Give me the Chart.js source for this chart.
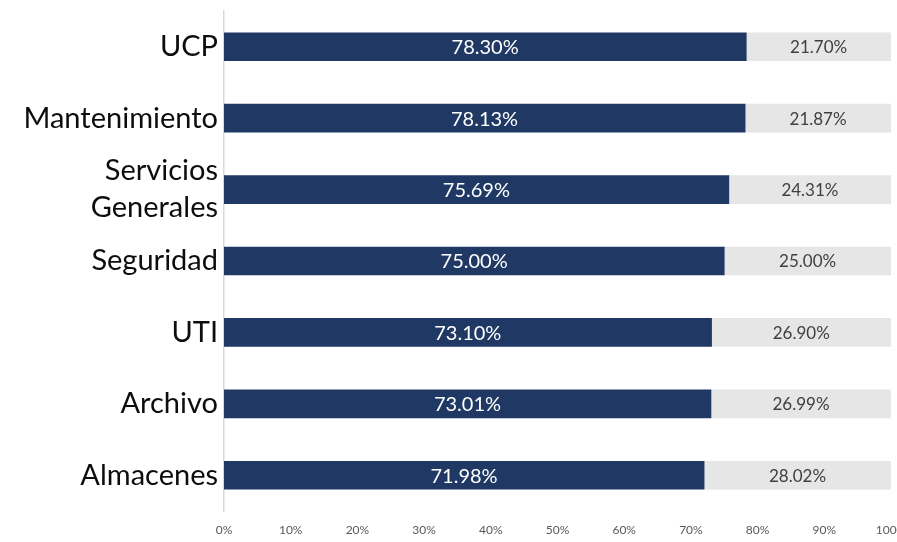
<!DOCTYPE html>
<html>
<head>
<meta charset="utf-8">
<script src="https://cdn.jsdelivr.net/npm/chart.js@4"></script>
<style>
    html, body { margin: 0; padding: 0; background: #fff; overflow: hidden; }
    #wrap { width: 920px; height: 542px; }
</style>
</head>
<body>
<div id="wrap"><canvas id="chart"></canvas></div>
<script>
// 数据
const categories = ['UCP', 'Mantenimiento', ['Servicios', 'Generales'], 'Seguridad', 'UTI', 'Archivo', 'Almacenes'];
const cumplido = [78.30, 78.13, 75.69, 75.00, 73.10, 73.01, 71.98];
const pendiente = [21.70, 21.87, 24.31, 25.00, 26.90, 26.99, 28.02];
const xTicks = [0, 10, 20, 30, 40, 50, 60, 70, 80, 90, 100];

// 在柱子中间画百分比标签
const barLabels = {
    id: 'barLabels',
    afterDatasetsDraw(chart) {
        const ctx = chart.ctx;
        ctx.save();
        ctx.textAlign = 'center';
        ctx.textBaseline = 'middle';
        chart.data.datasets.forEach((ds, i) => {
            const meta = chart.getDatasetMeta(i);
            ctx.fillStyle = i === 0 ? '#ffffff' : '#404040';
            ctx.font = (i === 0 ? '20px' : '17px') + ' Lato';
            meta.data.forEach((bar, j) => {
                const x = (bar.base + bar.x) / 2;
                ctx.fillText(ds.data[j].toFixed(2) + '%', x, bar.y + 1);
            });
        });
        ctx.restore();
    }
};

const ctx = document.getElementById('chart').getContext('2d');
new Chart(ctx, {
    type: 'bar',
    data: {
        labels: categories,
        datasets: [
            {
                label: 'Cumplido',
                data: cumplido,
                backgroundColor: '#203864',
                barThickness: 28
            },
            {
                label: 'Pendiente',
                data: pendiente,
                backgroundColor: '#e6e6e6',
                barThickness: 28
            }
        ]
    },
    options: {
        indexAxis: 'y',
        responsive: true,
        maintainAspectRatio: false,
        animation: false,
        layout: {
            padding: { top: 11, right: 29, bottom: 0, left: 0 }
        },
        plugins: {
            legend: { display: false },
            tooltip: { enabled: false }
        },
        scales: {
            x: {
                stacked: true,
                min: 0,
                max: 100,
                afterBuildTicks: (scale) => {
                    scale.ticks = xTicks.map(v => ({ value: v }));
                },
                afterFit: (scale) => { scale.height = 31; },
                grid: { display: false, drawTicks: false },
                border: { display: false },
                ticks: {
                    padding: 12,
                    color: '#595959',
                    font: { family: 'Lato', size: 12 },
                    maxRotation: 0,
                    autoSkip: false,
                    callback: (v) => v + '%'
                }
            },
            y: {
                stacked: true,
                afterFit: (scale) => {
                    scale.width = 224;
                    scale.paddingTop = 0;
                    scale.paddingBottom = 0;
                },
                grid: { display: false, drawTicks: false },
                border: { display: true, color: '#d9d9d9', width: 1.5 },
                ticks: {
                    padding: 6,
                    autoSkip: false,
                    color: '#0d0d0d',
                    font: { family: 'Lato', size: 29, lineHeight: 1.28 }
                }
            }
        }
    },
    plugins: [barLabels]
});
</script>
</body>
</html>
